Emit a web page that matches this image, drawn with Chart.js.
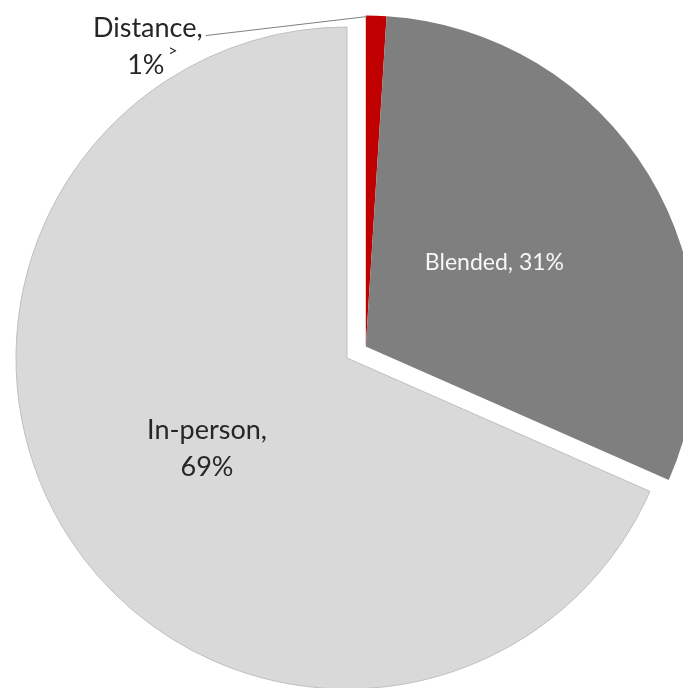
<!DOCTYPE html>
<html>
<head>
<meta charset="utf-8">
<script src="https://cdn.jsdelivr.net/npm/chart.js@4.4.1/dist/chart.umd.min.js"></script>
<style>
  html, body { margin: 0; padding: 0; background: #fff; }
</style>
</head>
<body>
<canvas id="myChart" width="683" height="688"></canvas>
<script>
// slices start at 12 o'clock and go clockwise
var modes = ["Distance", "Blended", "In-person"];
var shares = [1, 30.6, 68.4];
var shareLabels = ["1%", "31%", "69%"];
var sliceColors = ["#c00000", "#7f7f7f", "#d9d9d9"];

// Distance and Blended are pulled out together, along Blended's middle
var explodeLead = 1;
var exploded = [0, 1];
var explode = 22;

var explodePlugin = {
  id: "explodeGroup",
  afterDatasetsUpdate: function(chart) {
    var arcs = chart.getDatasetMeta(0).data;
    var lead = arcs[explodeLead];
    var mid = (lead.startAngle + lead.endAngle) / 2;
    var dx = Math.cos(mid) * explode, dy = Math.sin(mid) * explode;
    exploded.forEach(function(i) { arcs[i].x += dx; arcs[i].y += dy; });
  }
};

// label styling per slice (position ratio along mid angle)
var labelStyle = [
  {font: "27px Lato", color: "#262626"},
  {font: "23px Lato", color: "#f7f7f7", ratio: 0.455},
  {font: "27px Lato", color: "#262626", ratio: 0.505}
];

var labelPlugin = {
  id: "sliceLabels",
  afterDatasetsDraw: function(chart) {
    var c = chart.ctx;
    var arcs = chart.getDatasetMeta(0).data;
    c.save();
    c.textAlign = "center";
    c.textBaseline = "alphabetic";

    // Blended: one line inside
    var a = arcs[1], s = labelStyle[1];
    var mid = (a.startAngle + a.endAngle) / 2;
    var px = a.x + Math.cos(mid) * a.outerRadius * s.ratio;
    var py = a.y + Math.sin(mid) * a.outerRadius * s.ratio;
    c.font = s.font; c.fillStyle = s.color;
    c.fillText(modes[1] + ", " + shareLabels[1], px, py + 2);

    // In-person: two lines inside
    a = arcs[2]; s = labelStyle[2];
    mid = (a.startAngle + a.endAngle) / 2;
    px = a.x + Math.cos(mid) * a.outerRadius * s.ratio;
    py = a.y + Math.sin(mid) * a.outerRadius * s.ratio;
    c.font = s.font; c.fillStyle = s.color;
    c.fillText(modes[2] + ",", px, py - 10);
    c.fillText(shareLabels[2], px, py + 27);

    // Distance: outside, with a leader line to the slice
    a = arcs[0]; s = labelStyle[0];
    var ox = a.x + Math.cos(a.startAngle) * a.outerRadius;
    var oy = a.y + Math.sin(a.startAngle) * a.outerRadius;
    var lx = ox - 218, ly = oy + 21;
    c.font = s.font; c.fillStyle = s.color;
    c.fillText(modes[0] + ",", lx, ly);
    c.fillText(shareLabels[0], lx - 2, ly + 37);
    c.font = "16px Lato";
    c.fillText(">", lx + 25, ly + 19);

    c.strokeStyle = "#7f7f7f";
    c.lineWidth = 1;
    c.beginPath();
    c.moveTo(lx + 58, ly - 1);
    c.lineTo(ox + 1, oy + 1);
    c.stroke();
    c.restore();
  }
};

var ctx = document.getElementById("myChart");
var myChart = new Chart(ctx, {
  type: "pie",
  data: {
    labels: modes,
    datasets: [{
      data: shares,
      backgroundColor: sliceColors,
      borderColor: ["#c00000", "#7f7f7f", "#bfbfbf"],
      borderWidth: [0, 0, 1]
    }]
  },
  options: {
    responsive: false,
    animation: false,
    radius: 331,
    layout: { padding: { left: 11, top: 28, right: 0, bottom: 0 } },
    plugins: {
      legend: { display: false },
      tooltip: { enabled: false }
    }
  },
  plugins: [explodePlugin, labelPlugin]
});
</script>
</body>
</html>
